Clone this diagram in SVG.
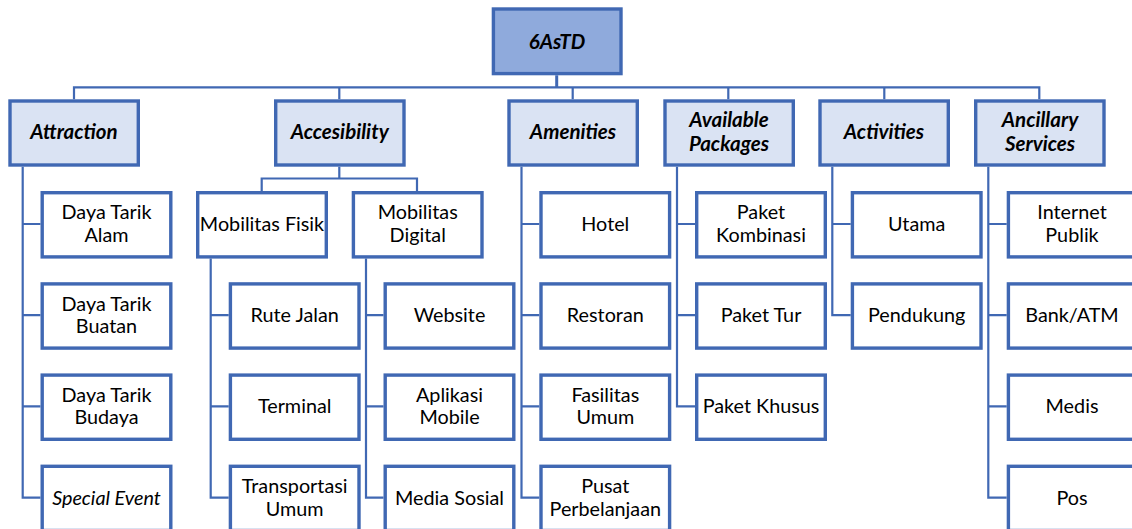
<svg xmlns="http://www.w3.org/2000/svg" width="1132" height="529" viewBox="0 0 1132 529">
<style>
.box{stroke:#4068B3;stroke-width:3.4}
.n0{fill:#8FAADC}
.n1{fill:#DAE3F3}
.n2{fill:#FFFFFF}
.c{fill:none;stroke:#4068B3;stroke-width:2.2}
.c3{fill:none;stroke:#4068B3;stroke-width:3}
text{font-family:Lato,"Liberation Sans",sans-serif;fill:#000;text-anchor:middle}
.t0,.t1{font-size:20.5px;font-weight:bold;font-style:italic}
.t2{font-size:19.8px}
.it{font-style:italic}
</style>
<rect width="1132" height="529" fill="#FFFFFF"/>
<g id="connectors">
<path class="c3" d="M556.7 75.3 V87.3"/>
<path class="c" d="M74 99.3 V87.3 H1039.3 V99.3 M339.3 87.3 V99.3 M572.7 87.3 V99.3 M728.3 87.3 V99.3 M884.3 87.3 V99.3"/>
<path class="c" d="M339.3 166.7 V178.5 M261.7 191 V178.5 H417 V191"/>
<path class="c" d="M22.7 166.7 V497.6 H40.5 M22.7 224 H40.5 M22.7 315.2 H40.5 M22.7 406.4 H40.5"/>
<path class="c" d="M210.7 258.6 V497.6 H228.7 M210.7 315.2 H228.7 M210.7 406.4 H228.7"/>
<path class="c" d="M366 258.6 V497.6 H383.5 M366 315.2 H383.5 M366 406.4 H383.5"/>
<path class="c" d="M521.5 166.7 V497.6 H539.3 M521.5 224 H539.3 M521.5 315.2 H539.3 M521.5 406.4 H539.3"/>
<path class="c" d="M677 166.7 V406.4 H695 M677 224 H695 M677 315.2 H695"/>
<path class="c" d="M832.3 166.7 V315.2 H850.7 M832.3 224 H850.7"/>
<path class="c" d="M988.3 166.7 V497.6 H1006.7 M988.3 224 H1006.7 M988.3 315.2 H1006.7 M988.3 406.4 H1006.7"/>
</g>
<g id="root"><rect class="box n0" x="493.4" y="9" width="127.6" height="64.6"/><text class="t0" x="557" y="49">6AsTD</text></g>

<g id="attraction"><rect class="box n1" x="10" y="101" width="128.3" height="64"/><text class="t1" x="74" y="139">Attraction</text></g>
<g id="accesibility"><rect class="box n1" x="275.7" y="101" width="128.3" height="64"/><text class="t1" x="339.7" y="139">Accesibility</text></g>
<g id="amenities"><rect class="box n1" x="509" y="101" width="128.3" height="64"/><text class="t1" x="573" y="139">Amenities</text></g>
<g id="available"><rect class="box n1" x="665" y="101" width="128.3" height="64"/><text class="t1" x="729" y="127">Available</text><text class="t1" x="729" y="151">Packages</text></g>
<g id="activities"><rect class="box n1" x="820" y="101" width="128.3" height="64"/><text class="t1" x="884" y="139">Activities</text></g>
<g id="ancillary"><rect class="box n1" x="975.7" y="101" width="128.3" height="64"/><text class="t1" x="1040" y="127">Ancillary</text><text class="t1" x="1040" y="151">Services</text></g>

<g id="daya-tarik-alam"><rect class="box n2" x="42.2" y="192.7" width="128.6" height="64.2"/><text class="t2" x="106.5" y="219.3">Daya Tarik</text><text class="t2" x="106.5" y="242">Alam</text></g>
<g id="daya-tarik-buatan"><rect class="box n2" x="42.2" y="283.9" width="128.6" height="64.2"/><text class="t2" x="106.5" y="310.5">Daya Tarik</text><text class="t2" x="106.5" y="333.2">Buatan</text></g>
<g id="daya-tarik-budaya"><rect class="box n2" x="42.2" y="375.1" width="128.6" height="64.2"/><text class="t2" x="106.5" y="401.7">Daya Tarik</text><text class="t2" x="106.5" y="424.4">Budaya</text></g>
<g id="special-event"><rect class="box n2" x="42.2" y="466.3" width="128.6" height="64.2"/><text class="t2 it" x="106.5" y="504.6">Special Event</text></g>

<g id="mobilitas-fisik"><rect class="box n2" x="197.7" y="192.7" width="128.6" height="64.2"/><text class="t2" x="262" y="231">Mobilitas Fisik</text></g>
<g id="mobilitas-digital"><rect class="box n2" x="353.4" y="192.7" width="128.6" height="64.2"/><text class="t2" x="417.7" y="219.3">Mobilitas</text><text class="t2" x="417.7" y="242">Digital</text></g>

<g id="rute-jalan"><rect class="box n2" x="230.4" y="283.9" width="128.6" height="64.2"/><text class="t2" x="294.7" y="322.2">Rute Jalan</text></g>
<g id="terminal"><rect class="box n2" x="230.4" y="375.1" width="128.6" height="64.2"/><text class="t2" x="294.7" y="413.4">Terminal</text></g>
<g id="transportasi-umum"><rect class="box n2" x="230.4" y="466.3" width="128.6" height="64.2"/><text class="t2" x="294.7" y="492.9">Transportasi</text><text class="t2" x="294.7" y="515.6">Umum</text></g>

<g id="website"><rect class="box n2" x="385.2" y="283.9" width="128.6" height="64.2"/><text class="t2" x="449.5" y="322.2">Website</text></g>
<g id="aplikasi-mobile"><rect class="box n2" x="385.2" y="375.1" width="128.6" height="64.2"/><text class="t2" x="449.5" y="401.7">Aplikasi</text><text class="t2" x="449.5" y="424.4">Mobile</text></g>
<g id="media-sosial"><rect class="box n2" x="385.2" y="466.3" width="128.6" height="64.2"/><text class="t2" x="449.5" y="504.6">Media Sosial</text></g>

<g id="hotel"><rect class="box n2" x="541" y="192.7" width="128.6" height="64.2"/><text class="t2" x="605.3" y="231">Hotel</text></g>
<g id="restoran"><rect class="box n2" x="541" y="283.9" width="128.6" height="64.2"/><text class="t2" x="605.3" y="322.2">Restoran</text></g>
<g id="fasilitas-umum"><rect class="box n2" x="541" y="375.1" width="128.6" height="64.2"/><text class="t2" x="605.3" y="401.7">Fasilitas</text><text class="t2" x="605.3" y="424.4">Umum</text></g>
<g id="pusat-perbelanjaan"><rect class="box n2" x="541" y="466.3" width="128.6" height="64.2"/><text class="t2" x="605.3" y="492.9">Pusat</text><text class="t2" x="605.3" y="515.6">Perbelanjaan</text></g>

<g id="paket-kombinasi"><rect class="box n2" x="696.7" y="192.7" width="128.6" height="64.2"/><text class="t2" x="761" y="219.3">Paket</text><text class="t2" x="761" y="242">Kombinasi</text></g>
<g id="paket-tur"><rect class="box n2" x="696.7" y="283.9" width="128.6" height="64.2"/><text class="t2" x="761" y="322.2">Paket Tur</text></g>
<g id="paket-khusus"><rect class="box n2" x="696.7" y="375.1" width="128.6" height="64.2"/><text class="t2" x="761" y="413.4">Paket Khusus</text></g>

<g id="utama"><rect class="box n2" x="852.4" y="192.7" width="128.6" height="64.2"/><text class="t2" x="916.7" y="231">Utama</text></g>
<g id="pendukung"><rect class="box n2" x="852.4" y="283.9" width="128.6" height="64.2"/><text class="t2" x="916.7" y="322.2">Pendukung</text></g>

<g id="internet-publik"><rect class="box n2" x="1008.4" y="192.7" width="128.6" height="64.2"/><text class="t2" x="1072" y="219.3">Internet</text><text class="t2" x="1072" y="242">Publik</text></g>
<g id="bank-atm"><rect class="box n2" x="1008.4" y="283.9" width="128.6" height="64.2"/><text class="t2" x="1072" y="322.2">Bank/ATM</text></g>
<g id="medis"><rect class="box n2" x="1008.4" y="375.1" width="128.6" height="64.2"/><text class="t2" x="1072" y="413.4">Medis</text></g>
<g id="pos"><rect class="box n2" x="1008.4" y="466.3" width="128.6" height="64.2"/><text class="t2" x="1072" y="504.6">Pos</text></g>
</svg>
